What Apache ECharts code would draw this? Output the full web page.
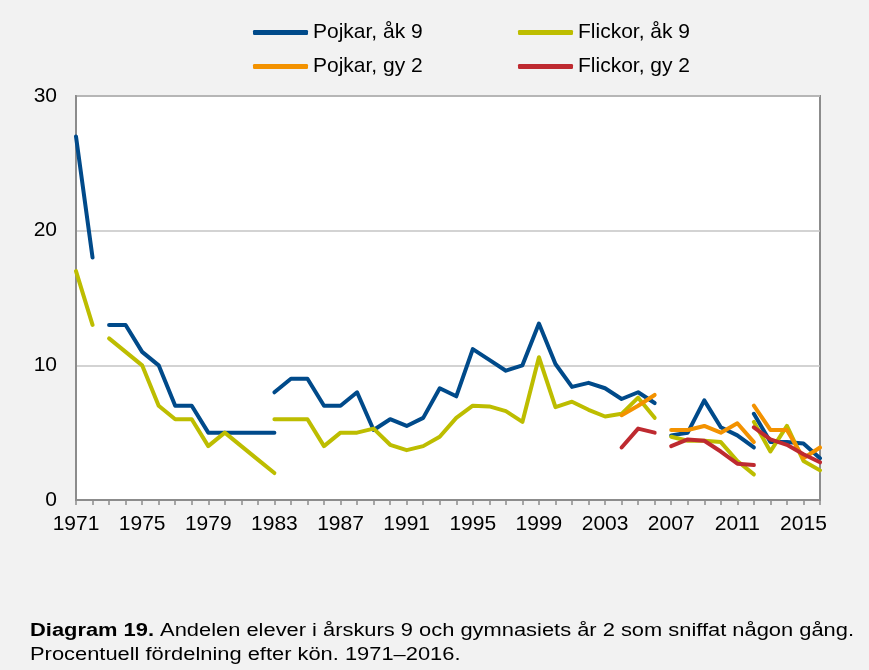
<!DOCTYPE html>
<html>
<head>
<meta charset="utf-8">
<script src="https://cdn.jsdelivr.net/npm/echarts@6/dist/echarts.min.js"></script>
<style>
html,body{margin:0;padding:0;background:#f2f2f2;}
#chart{width:869px;height:670px;}
</style>
</head>
<body>
<div id="chart"></div>
<script>
// Categories (years)
const years = [];
for (let y = 1971; y <= 2016; y++) years.push(String(y));
const tickYears = ['1971','1975','1979','1983','1987','1991','1995','1999','2003','2007','2011','2015'];

// Series names
const nameBoysAk9 = 'Pojkar, åk 9';
const nameGirlsAk9 = 'Flickor, åk 9';
const nameBoysGy2 = 'Pojkar, gy 2';
const nameGirlsGy2 = 'Flickor, gy 2';

// Pojkar, åk 9 (segments, first year given)
const boysAk9_1971 = [27, 18];
const boysAk9_1973 = [13, 13, 11, 10, 7, 7, 5, 5, 5, 5, 5];
const boysAk9_1983 = [8, 9, 9, 7, 7, 8, 5.2, 6.0, 5.5, 6.1, 8.3, 7.7, 11.2, 10.4, 9.6, 10.0, 13.1, 10.1, 8.4, 8.7, 8.3, 7.5, 8.0, 7.2];
const boysAk9_2007 = [4.8, 5.0, 7.4, 5.4, 4.8, 3.9];
const boysAk9_2012 = [6.4, 4.3, 4.3, 4.2, 3.1];

// Flickor, åk 9
const girlsAk9_1971 = [17, 13];
const girlsAk9_1973 = [12, 11, 10, 7, 6, 6, 4, 5, 4, 3, 2];
const girlsAk9_1983 = [6, 6, 6, 4, 5, 5, 5.3, 4.1, 3.7, 4.0, 4.7, 6.1, 7.0, 6.95, 6.6, 5.8, 10.6, 6.9, 7.3, 6.7, 6.2, 6.4, 7.6, 6.1];
const girlsAk9_2007 = [4.7, 4.4, 4.4, 4.3, 2.9, 1.9];
const girlsAk9_2012 = [5.8, 3.6, 5.5, 2.9, 2.2];

// Pojkar, gy 2
const boysGy2_2004 = [6.3, 7.0, 7.8];
const boysGy2_2007 = [5.2, 5.2, 5.5, 5.0, 5.7, 4.3];
const boysGy2_2012 = [7.0, 5.2, 5.2, 3.1, 3.9];

// Flickor, gy 2
const girlsGy2_2004 = [3.9, 5.3, 5.0];
const girlsGy2_2007 = [4.0, 4.5, 4.4, 3.6, 2.7, 2.6];
const girlsGy2_2012 = [5.4, 4.5, 4.1, 3.4, 2.8];

const colors = {};
colors[nameBoysAk9] = '#004a8a';
colors[nameGirlsAk9] = '#bdbd00';
colors[nameBoysGy2] = '#f39200';
colors[nameGirlsGy2] = '#be2a30';

const segments = [
  [nameBoysAk9, 1971, boysAk9_1971],
  [nameBoysAk9, 1973, boysAk9_1973],
  [nameBoysAk9, 1983, boysAk9_1983],
  [nameBoysAk9, 2007, boysAk9_2007],
  [nameBoysAk9, 2012, boysAk9_2012],
  [nameGirlsAk9, 1971, girlsAk9_1971],
  [nameGirlsAk9, 1973, girlsAk9_1973],
  [nameGirlsAk9, 1983, girlsAk9_1983],
  [nameGirlsAk9, 2007, girlsAk9_2007],
  [nameGirlsAk9, 2012, girlsAk9_2012],
  [nameBoysGy2, 2004, boysGy2_2004],
  [nameBoysGy2, 2007, boysGy2_2007],
  [nameBoysGy2, 2012, boysGy2_2012],
  [nameGirlsGy2, 2004, girlsGy2_2004],
  [nameGirlsGy2, 2007, girlsGy2_2007],
  [nameGirlsGy2, 2012, girlsGy2_2012]
];

const series = segments.map(function (s) {
  const data = years.map(function () { return null; });
  const start = s[1] - 1971;
  s[2].forEach(function (v, i) { data[start + i] = v; });
  return {
    name: s[0],
    type: 'line',
    data: data,
    symbol: 'none',
    connectNulls: false,
    color: colors[s[0]],
    lineStyle: { width: 4, color: colors[s[0]], cap: 'round', join: 'round' },
    emphasis: { disabled: true },
    animation: false
  };
});

const FONT = '"Liberation Sans", Arial, sans-serif';

function legendAt(name, left, top) {
  return {
    data: [name], left: left, top: top, padding: 0,
    itemWidth: 55, itemHeight: 5, icon: 'roundRect', itemGap: 0,
    textStyle: { fontSize: 21, color: '#000', fontFamily: FONT },
    selectedMode: false
  };
}

const chart = echarts.init(document.getElementById('chart'), null, { renderer: 'canvas' });
chart.setOption({
  backgroundColor: '#f2f2f2',
  animation: false,
  legend: [
    legendAt(nameBoysAk9, 253, 22),
    legendAt(nameGirlsAk9, 518, 22),
    legendAt(nameBoysGy2, 253, 56),
    legendAt(nameGirlsGy2, 518, 56)
  ],
  grid: {
    left: 76, top: 96, width: 744, height: 404,
    show: true, backgroundColor: '#ffffff', borderColor: '#8c8c8c', borderWidth: 2
  },
  xAxis: {
    type: 'category',
    data: years,
    boundaryGap: false,
    axisLine: { lineStyle: { color: '#8c8c8c', width: 2 } },
    axisTick: { show: true, interval: 0, length: 5, lineStyle: { color: '#8c8c8c', width: 1.5 } },
    axisLabel: {
      interval: function (idx, val) { return tickYears.indexOf(val) >= 0; },
      fontSize: 21, color: '#000', fontFamily: FONT, margin: 14
    },
    splitLine: { show: false }
  },
  yAxis: {
    type: 'value', min: 0, max: 30, interval: 10,
    axisLine: { show: true, lineStyle: { color: '#8c8c8c', width: 2 } },
    axisTick: { show: false },
    axisLabel: { fontSize: 21, color: '#000', fontFamily: FONT, margin: 19 },
    splitLine: { lineStyle: { color: '#c4c4c4', width: 1.5 } }
  },
  graphic: [
    {
      type: 'text', x: 30, y: 631, scaleX: 1.25, silent: true,
      style: {
        text: '{b|Diagram 19.} Andelen elever i årskurs 9 och gymnasiets år 2 som sniffat någon gång.',
        fontSize: 17.5, fontFamily: FONT, fill: '#000', verticalAlign: 'middle', align: 'left',
        rich: { b: { fontWeight: 'bold', fontSize: 17.5, fontFamily: FONT, fill: '#000' } }
      }
    },
    {
      type: 'text', x: 30, y: 655, scaleX: 1.25, silent: true,
      style: {
        text: 'Procentuell fördelning efter kön. 1971–2016.',
        fontSize: 17.5, fontFamily: FONT, fill: '#000', verticalAlign: 'middle', align: 'left'
      }
    }
  ],
  series: series
});
</script>
</body>
</html>
